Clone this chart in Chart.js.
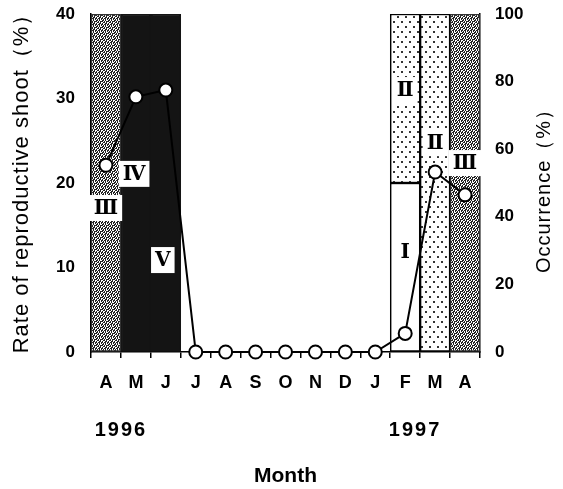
<!DOCTYPE html>
<html>
<head>
<meta charset="utf-8">
<script src="https://cdn.jsdelivr.net/npm/chart.js@4"></script>
<style>
  html, body { margin: 0; padding: 0; background: #fff; }
  #wrap { width: 563px; height: 489px; }
</style>
</head>
<body>
<div id="wrap"><canvas id="chart" width="563" height="489"></canvas></div>
<script>
// months Apr 1996 .. Apr 1997
const months = ['A', 'M', 'J', 'J', 'A', 'S', 'O', 'N', 'D', 'J', 'F', 'M', 'A'];

// rate of reproductive shoot (%), left axis
const rateValues = [22.1, 30.2, 31.0, 0, 0, 0, 0, 0, 0, 0, 2.2, 21.3, 18.6];

// occurrence of stages (%), right axis, stacked
const stageI   = [null, null, null, null, null, null, null, null, null, null, 50, null, null];
const stageII  = [null, null, null, null, null, null, null, null, null, null, 50, 100, null];
const stageIII = [100, null, null, null, null, null, null, null, null, null, null, null, 100];
const stageV   = [null, 100, 100, null, null, null, null, null, null, null, null, null, null];

const rateTicks = [0, 10, 20, 30, 40];
const occTicks = [0, 20, 40, 60, 80, 100];

// stage names written in the bars (month index, occurrence %)
const stageLabels = [
  { text: 'Ⅲ', month: 0, occ: 42.6 },
  { text: 'Ⅳ', month: 0.94, occ: 52.7 },
  { text: 'Ⅴ', month: 1.9, occ: 27.2 },
  { text: 'Ⅱ', month: 10, occ: 77.5 },
  { text: 'Ⅰ', month: 10, occ: 29.6 },
  { text: 'Ⅱ', month: 11, occ: 61.8 },
  { text: 'Ⅲ', month: 12, occ: 55.9 }
];

const years = [
  { text: '1996', month: 0.5 },
  { text: '1997', month: 10.33 }
];

const leftTitle = 'Rate of reproductive shoot（%）';
const rightTitle = 'Occurrence（%）';

function makePattern(mask, dark, light) {
  const tile = document.createElement('canvas');
  tile.width = mask[0].length;
  tile.height = mask.length;
  const tctx = tile.getContext('2d');
  tctx.fillStyle = light;
  tctx.fillRect(0, 0, tile.width, tile.height);
  tctx.fillStyle = dark;
  mask.forEach((row, j) => {
    for (let i = 0; i < row.length; i++) {
      if (row[i] === 'x') tctx.fillRect(i, j, 1, 1);
    }
  });
  return tctx.createPattern(tile, 'repeat');
}

const ctx = document.getElementById('chart').getContext('2d');

const grayStipple = makePattern([
  'x.xx.x',
  '.x.x.x',
  'xx.x..',
  'x.x.xx',
  '.xx.x.',
  'x..xx.'
], '#222', '#fff');

const lightDots = makePattern([
  '........',
  '.xx.....',
  '.xx.....',
  '........',
  '........',
  '........',
  '.....xx.',
  '.....xx.',
  '........',
  '........'
], '#333', '#fff');

const stageLabelPlugin = {
  id: 'stageLabels',
  afterDatasetsDraw(chart) {
    const { ctx, scales: { x, y, y1 }, chartArea } = chart;
    ctx.save();
    ctx.font = 'bold 20px "DejaVu Serif", "Liberation Serif", serif';
    ctx.textAlign = 'center';
    ctx.textBaseline = 'middle';
    stageLabels.forEach(l => {
      const px = x.getPixelForValue(l.month);
      const py = y1.getPixelForValue(l.occ);
      const w = ctx.measureText(l.text).width + 8;
      const h = 26;
      ctx.fillStyle = '#fff';
      ctx.fillRect(px - w / 2, py - h / 2, w, h);
      ctx.fillStyle = '#000';
      ctx.fillText(l.text, px, py + 1);
    });

    ctx.font = 'bold 20px "Liberation Sans", Arial, sans-serif';
    ctx.letterSpacing = '2px';
    years.forEach(yr => {
      ctx.fillText(yr.text, x.getPixelForValue(yr.month), chartArea.bottom + 78);
    });

    // axis titles, both reading bottom to top
    const midY = (chartArea.top + chartArea.bottom) / 2;
    ctx.letterSpacing = '1px';
    ctx.font = '22px "Liberation Sans", Arial, sans-serif';
    ctx.save();
    ctx.translate(y.left + 13, midY - 5);
    ctx.rotate(-Math.PI / 2);
    ctx.fillText(leftTitle, 0, 0);
    ctx.restore();

    ctx.font = '20px "Liberation Sans", Arial, sans-serif';
    ctx.save();
    ctx.translate(y1.right - 12, midY + 3);
    ctx.rotate(-Math.PI / 2);
    ctx.fillText(rightTitle, 0, 0);
    ctx.restore();

    ctx.restore();
  }
};

const barBase = {
  type: 'bar',
  yAxisID: 'y1',
  stack: 'occ',
  borderColor: '#000',
  borderWidth: 1.5,
  borderSkipped: false,
  barPercentage: 1,
  categoryPercentage: 1,
  order: 1
};

// keep the plot box fixed: no extra room for the end tick labels
function fixVertical(width) {
  return s => {
    s.width = width;
    s.paddingTop = 0;
    s.paddingBottom = 0;
  };
}

new Chart(ctx, {
  data: {
    labels: months,
    datasets: [
      {
        type: 'line',
        label: 'Rate of reproductive shoot',
        data: rateValues,
        yAxisID: 'y',
        borderColor: '#000',
        borderWidth: 2,
        pointRadius: 6.5,
        pointBorderWidth: 2,
        pointBackgroundColor: '#fff',
        pointBorderColor: '#000',
        tension: 0,
        clip: false,
        order: 0
      },
      { ...barBase, label: 'I', data: stageI, backgroundColor: '#fff' },
      { ...barBase, label: 'II', data: stageII, backgroundColor: lightDots },
      { ...barBase, label: 'III', data: stageIII, backgroundColor: grayStipple, borderColor: '#333' },
      { ...barBase, label: 'V', data: stageV, backgroundColor: '#141414', borderColor: '#141414' }
    ]
  },
  options: {
    responsive: false,
    animation: false,
    layout: { padding: { left: 9, right: 7, top: 14, bottom: 0 } },
    plugins: {
      legend: { display: false },
      tooltip: { enabled: false }
    },
    scales: {
      x: {
        stacked: true,
        offset: true,
        grid: {
          display: true,
          drawOnChartArea: false,
          drawTicks: true,
          tickLength: 6,
          color: '#000',
          lineWidth: 1.5,
          offset: true
        },
        border: { display: true, color: '#000', width: 1.5 },
        ticks: {
          color: '#000',
          font: { family: '"Liberation Sans", Arial, sans-serif', size: 18, weight: 'bold' },
          padding: 14,
          maxRotation: 0,
          autoSkip: false
        },
        title: {
          display: true,
          text: 'Month',
          color: '#000',
          font: { family: '"Liberation Sans", Arial, sans-serif', size: 21, weight: 'bold' },
          padding: { top: 0, bottom: 0 }
        },
        afterFit: s => { s.height = 137; }
      },
      y: {
        position: 'left',
        stacked: false,
        min: 0,
        max: 40,
        afterBuildTicks: s => { s.ticks = rateTicks.map(v => ({ value: v })); },
        grid: { display: false, drawTicks: false },
        border: { display: true, color: '#000', width: 1.5 },
        ticks: {
          color: '#000',
          font: { family: '"Liberation Sans", Arial, sans-serif', size: 17, weight: 'bold' },
          padding: 16
        },
        afterFit: fixVertical(82)
      },
      y1: {
        position: 'right',
        stacked: true,
        min: 0,
        max: 100,
        afterBuildTicks: s => { s.ticks = occTicks.map(v => ({ value: v })); },
        grid: { drawOnChartArea: false, drawTicks: false },
        border: { display: true, color: '#000', width: 1.5 },
        ticks: {
          color: '#000',
          font: { family: '"Liberation Sans", Arial, sans-serif', size: 17, weight: 'bold' },
          padding: 15
        },
        afterFit: fixVertical(76)
      }
    }
  },
  plugins: [stageLabelPlugin]
});
</script>
</body>
</html>
